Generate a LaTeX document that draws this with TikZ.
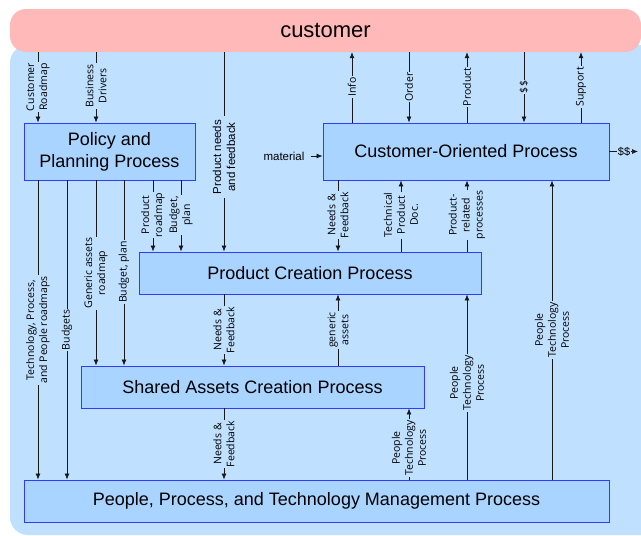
\documentclass[tikz,border=0pt]{standalone}
\usepackage{fontspec}
\setmainfont{Liberation Sans}
\newfontfamily\lblfont{Open Sans}
\usetikzlibrary{arrows.meta}
\definecolor{bgblue}{RGB}{191,224,255}
\definecolor{boxfill}{RGB}{168,212,255}
\definecolor{boxline}{RGB}{45,60,255}
\definecolor{custpink}{RGB}{255,185,185}
\begin{document}
\begin{tikzpicture}[x=1pt,y=-1pt,
  procbox/.style={draw=boxline, fill=boxfill, line width=0.9pt, inner sep=0pt, align=center, font=\fontsize{18}{22}\selectfont},
  arr/.style={draw=black!90, line width=0.7pt, -{Latex[length=6pt,width=5pt]}},
  plain/.style={draw=black!90, line width=0.7pt},
  lab/.style={fill=bgblue, inner sep=1pt, rotate=90, align=center, font=\lblfont\fontsize{10.5}{13}\selectfont},
  alab/.style={fill=bgblue, inner sep=1pt, align=center, font=\fontsize{11.5}{14}\selectfont}]
\useasboundingbox (0,0) rectangle (641,536);
\begin{scope}
  \clip (0,0) rectangle (641,536);
  \fill[bgblue, rounded corners=18] (10,45) rectangle (700,535);
\end{scope}
\node[fill=custpink, rounded corners=16, minimum width=631pt, minimum height=43pt, inner sep=0pt,
      font=\fontsize{22}{26}\selectfont] (cust) at (325.5,30.5) {customer};

% process boxes
\node[procbox, minimum width=171pt, minimum height=57pt] (pol) at (109.5,151.5) {Policy and\\Planning Process};
\node[procbox, minimum width=286pt, minimum height=57pt] (co) at (466,151.5) {Customer-Oriented Process};
\node[procbox, minimum width=342pt, minimum height=42pt] (pc) at (310,273) {Product Creation Process};
\node[procbox, minimum width=343pt, minimum height=42pt] (sa) at (252.5,387) {Shared Assets Creation Process};
\node[procbox, minimum width=585pt, minimum height=42pt] (ppt) at (316.5,501) {People, Process, and Technology Management Process};

% x positions
\coordinate (x38) at (38,0);
\coordinate (x67) at (67,0);
\coordinate (x96) at (96,0);
\coordinate (x124) at (124,0);
\coordinate (x153) at (153,0);
\coordinate (x181) at (181,0);
\coordinate (x224) at (224,0);
\coordinate (x338) at (338,0);
\coordinate (x352) at (352,0);
\coordinate (x401) at (401,0);
\coordinate (x409) at (409,0);
\coordinate (x467) at (467,0);
\coordinate (x524) at (524,0);
\coordinate (x552) at (552,0);
\coordinate (x581) at (581,0);
\coordinate (outd) at (638,151.5);

% customer <-> boxes
\draw[arr] (cust.south -| x38) -- (pol.north -| x38);
\draw[arr] (cust.south -| x96) -- (pol.north -| x96);
\draw[arr] (cust.south -| x224) -- (pc.north -| x224);
\draw[arr] (co.north -| x352) -- (cust.south -| x352);
\draw[arr] (cust.south -| x409) -- (co.north -| x409);
\draw[arr] (co.north -| x467) -- (cust.south -| x467);
\draw[arr] (cust.south -| x524) -- (co.north -| x524);
\draw[arr] (co.north -| x581) -- (cust.south -| x581);

% customer-oriented side
\draw[arr] (co.east) -- (outd);
\node[alab, font=\fontsize{11}{13}\selectfont] (dollars) at (624,151.5) {\$\$};
\node[font=\fontsize{11.5}{14}\selectfont, inner sep=2pt] (mat) at (284,156) {material};
\draw[arr, shorten <=4pt] (mat.east) -- (co.west |- mat.east);

% policy outputs
\draw[arr] (pol.south -| x38) -- (ppt.north -| x38);
\draw[arr] (pol.south -| x67) -- (ppt.north -| x67);
\draw[arr] (pol.south -| x96) -- (sa.north -| x96);
\draw[arr] (pol.south -| x124) -- (sa.north -| x124);
\draw[arr] (pol.south -| x153) -- (pc.north -| x153);
\draw[arr] (pol.south -| x181) -- (pc.north -| x181);

% customer-oriented <-> product creation
\draw[arr] (co.south -| x338) -- (pc.north -| x338);
\draw[arr] (pc.north -| x401) -- (co.south -| x401);
\draw[arr] (pc.north -| x467) -- (co.south -| x467);
\draw[arr] (ppt.north -| x552) -- (co.south -| x552);

% product creation <-> shared assets
\draw[arr] (pc.south -| x224) -- (sa.north -| x224);
\draw[arr] (sa.north -| x338) -- (pc.south -| x338);
\draw[arr] (ppt.north -| x467) -- (pc.south -| x467);

% shared assets <-> ppt
\draw[arr] (sa.south -| x224) -- (ppt.north -| x224);
\draw[arr] (ppt.north -| x409) -- (sa.south -| x409);

% labels
\node[lab] (l1) at (38,87) {Customer\\Roadmap};
\node[lab] (l2) at (96,86) {Business\\Drivers};
\node[lab, inner sep=4pt, font=\fontsize{11.5}{14}\selectfont] (l3) at (224,157) {Product needs\\and feedback};
\node[lab] (l4) at (352,87) {Info};
\node[lab] (l5) at (409,87) {Order};
\node[lab] (l6) at (467,87) {Product};
\node[lab] (l7) at (524,87) {\$\$};
\node[lab] (l8) at (581,87) {Support};

\node[lab] (l9) at (38,330) {Technology, Process,\\and People roadmaps};
\node[lab] (l10) at (67,330) {Budgets};
\node[lab] (l11) at (96,273) {Generic assets\\roadmap};
\node[lab] (l12) at (124,272) {Budget, plan};
\node[lab] (l13) at (153,215) {Product\\roadmap};
\node[lab] (l14) at (181,215) {Budget,\\plan};

\node[lab] (l15) at (338,215) {Needs \&\\Feedback};
\node[lab] (l16) at (401,215) {Technical\\Product\\Doc.};
\node[lab] (l17) at (467,215) {Product-\\related\\processes};
\node[lab] (l18) at (552,330) {People\\Technology\\Process};

\node[lab] (l19) at (224,330) {Needs \&\\Feedback};
\node[lab] (l20) at (338,330) {generic\\assets};
\node[lab] (l21) at (467,383) {People\\Technology\\Process};

\node[lab] (l22) at (224,444) {Needs \&\\Feedback};
\node[lab] (l23) at (409,448) {People\\Technology\\Process};
\end{tikzpicture}
\end{document}
